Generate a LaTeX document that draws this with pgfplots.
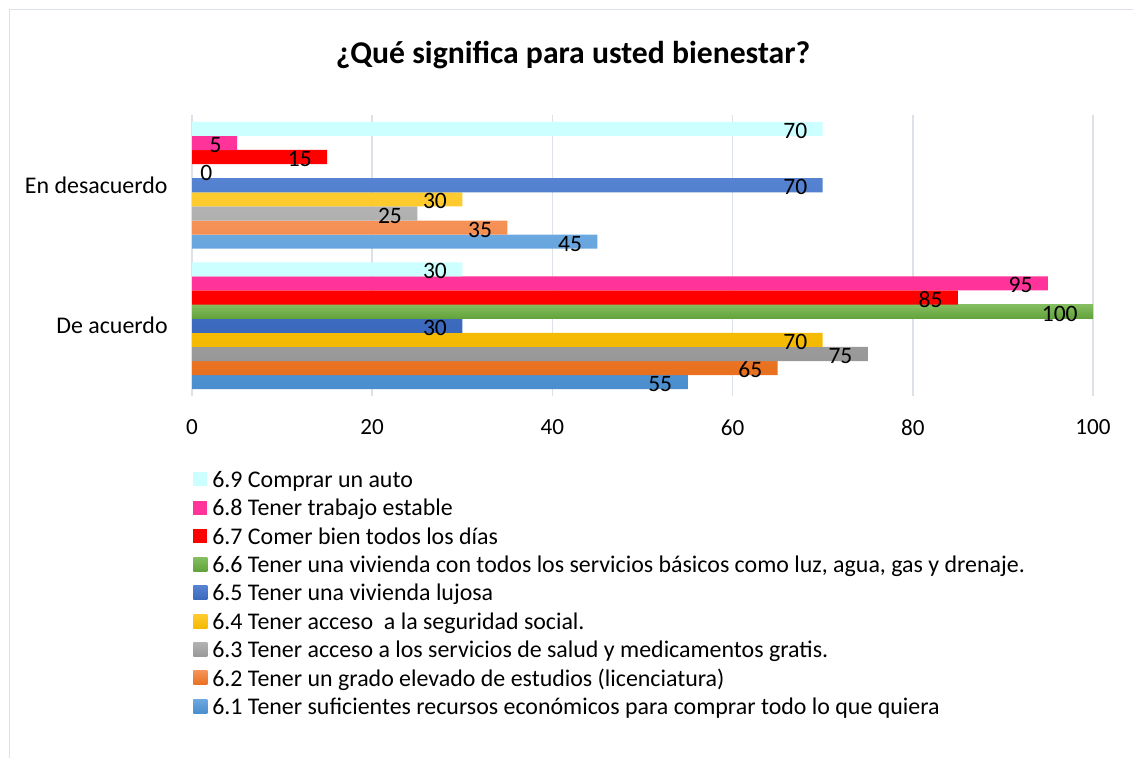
\documentclass[border=0pt]{standalone}
\usepackage{pgfplots}
\pgfplotsset{compat=1.18}
\usepackage{fontspec}
\setmainfont{Carlito}
\definecolor{c69}{HTML}{CCFFFF}
\definecolor{c68}{HTML}{FF3399}
\definecolor{c67}{HTML}{FF0000}
\definecolor{c66t}{HTML}{84BE60}
\definecolor{c66b}{HTML}{62A23A}
\definecolor{c65t}{HTML}{5682D2}
\definecolor{c65b}{HTML}{3A68BC}
\definecolor{c64t}{HTML}{FFCB30}
\definecolor{c64b}{HTML}{F4B900}
\definecolor{c63t}{HTML}{B2B2B2}
\definecolor{c63b}{HTML}{989898}
\definecolor{c62t}{HTML}{F59258}
\definecolor{c62b}{HTML}{E8701E}
\definecolor{c61t}{HTML}{6BA8E0}
\definecolor{c61b}{HTML}{4A8ECE}
\definecolor{gridc}{HTML}{DDE1E8}
\definecolor{framec}{HTML}{DDE1E8}
\begin{document}
\begin{tikzpicture}
\useasboundingbox (0,0) rectangle (566.5bp,379bp);
\draw[framec, line width=0.75bp] (4.75bp,0) -- (4.75bp,374.25bp) -- (566.5bp,374.25bp);
\node[font=\fontsize{15.9}{19}\selectfont\bfseries, inner sep=0pt] at (286.5bp,351.5bp) {¿Qué significa para usted bienestar?};
\begin{axis}[
  at={(96bp,181bp)}, anchor=south west,
  scale only axis, width=450.5bp, height=140.5bp,
  xmin=0, xmax=100, ymin=-0.5, ymax=1.5,
  xtick={0,20,...,100}, ytick={0,1},
  yticklabels={De acuerdo, En desacuerdo},
  xmajorgrids, grid style={line width=0.75bp, color=gridc},
  axis line style={draw=none}, major tick length=0pt,
  /pgf/number format/assume math mode=true,
  xticklabel style={font=\fontsize{11.6}{13}\selectfont, inner sep=0pt, yshift=-11.5bp},
  yticklabel style={font=\fontsize{12}{14}\selectfont, inner sep=0pt, xshift=-12bp},
  xbar, bar width=7.05bp,
  every axis plot/.append style={draw=none},
  nodes near coords,
  every node near coord/.append style={anchor=east, xshift=-7.5bp, yshift=-1bp, inner sep=0pt, text=black, font=\fontsize{11.8}{13}\selectfont},
  reverse legend,
  legend style={at={(axis description cs:0.001,-0.263)}, anchor=north west, draw=none, fill=none, inner sep=0pt,
    row sep=3.5bp, column sep=2.5bp, font=\fontsize{12}{14}\selectfont,
    nodes={inner sep=0pt, text height=8.5bp, text depth=2.2bp, anchor=base west}},
  legend cell align=left,
  legend image code/.code={\path[#1, draw=none] (0bp,0.6bp) rectangle (7bp,7.6bp);},
]
\addplot[bar shift=-28.2bp, top color=c61t, bottom color=c61b] coordinates {(55,0) (45,1)};
\addlegendentry{6.1 Tener suficientes recursos económicos para comprar todo lo que quiera}
\addplot[bar shift=-21.15bp, top color=c62t, bottom color=c62b] coordinates {(65,0) (35,1)};
\addlegendentry{6.2 Tener un grado elevado de estudios (licenciatura)}
\addplot[bar shift=-14.1bp, top color=c63t, bottom color=c63b] coordinates {(75,0) (25,1)};
\addlegendentry{6.3 Tener acceso a los servicios de salud y medicamentos gratis.}
\addplot[bar shift=-7.05bp, top color=c64t, bottom color=c64b] coordinates {(70,0) (30,1)};
\addlegendentry{6.4 Tener acceso\ \ a la seguridad social.}
\addplot[bar shift=0bp, top color=c65t, bottom color=c65b] coordinates {(30,0) (70,1)};
\addlegendentry{6.5 Tener una vivienda lujosa}
\addplot[bar shift=7.05bp, top color=c66t, bottom color=c66b] coordinates {(100,0)};
\addlegendentry{6.6 Tener una vivienda con todos los servicios básicos como luz, agua, gas y drenaje.}
\addplot[bar shift=14.1bp, fill=c67] coordinates {(85,0) (15,1)};
\addlegendentry{6.7 Comer bien todos los días}
\addplot[bar shift=21.15bp, fill=c68] coordinates {(95,0) (5,1)};
\addlegendentry{6.8 Tener trabajo estable}
\addplot[bar shift=28.2bp, fill=c69] coordinates {(30,0) (70,1)};
\addlegendentry{6.9 Comprar un auto}
\addplot[forget plot, bar shift=7.05bp, draw=none, fill=none,
  every node near coord/.append style={anchor=west, xshift=11.5bp}] coordinates {(0,1)};
\end{axis}
\end{tikzpicture}
\end{document}
